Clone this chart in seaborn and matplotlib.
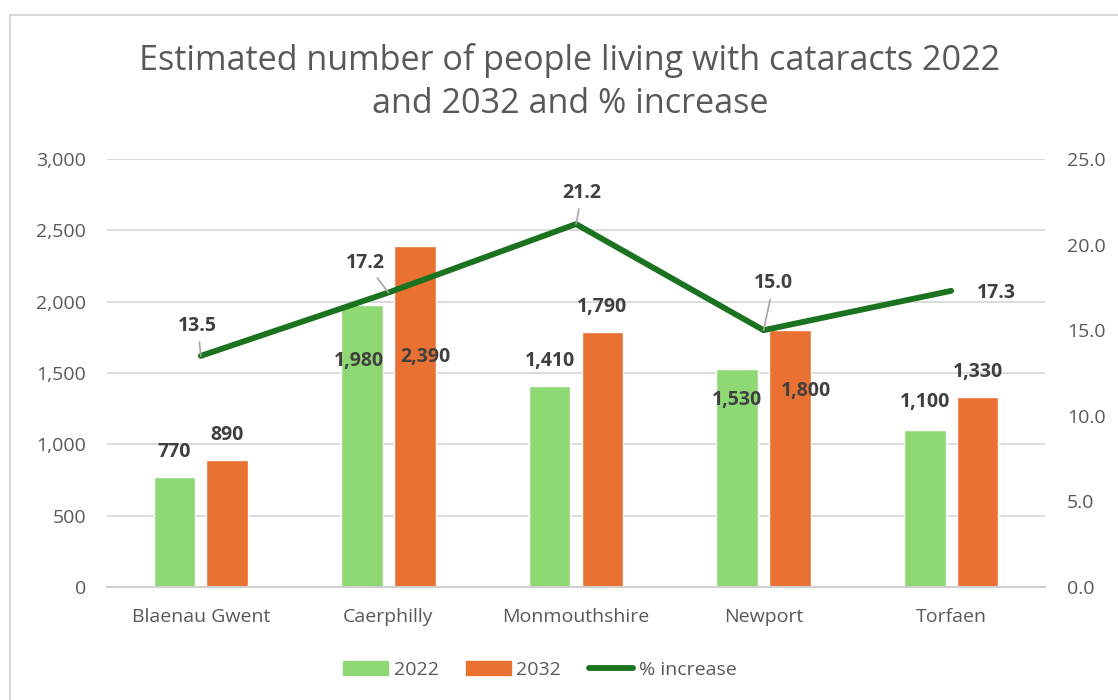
import numpy as np
import pandas as pd
import matplotlib
matplotlib.use("Agg")
import matplotlib.pyplot as plt
import matplotlib.patches as mpatches
import matplotlib.lines as mlines
from matplotlib.ticker import FuncFormatter
import seaborn as sns

areas = ["Blaenau Gwent", "Caerphilly", "Monmouthshire", "Newport", "Torfaen"]
people_2022 = [770, 1980, 1410, 1530, 1100]
people_2032 = [890, 2390, 1790, 1800, 1330]
pct_increase = [13.5, 17.2, 21.2, 15.0, 17.3]

GREEN = "#8ED973"
ORANGE = "#E97132"
DARK = "#1B7320"
GREY_TXT = "#595959"
LBL = "#404040"

sns.set_theme(style="white")
plt.rcParams["font.family"] = ["Open Sans", "DejaVu Sans"]

df = pd.DataFrame({"area": areas * 2,
                   "year": ["2022"] * 5 + ["2032"] * 5,
                   "people": people_2022 + people_2032})

fig = plt.figure(figsize=(11.18, 7.0), dpi=100)
ax = fig.add_axes([107 / 1118, 1 - 587 / 700, 938 / 1118, 428 / 700])

sns.barplot(data=df, x="area", y="people", hue="year", order=areas,
            hue_order=["2022", "2032"], palette=[GREEN, ORANGE],
            width=0.564, gap=0.213, saturation=1, ax=ax, legend=False,
            zorder=2)
ax.set_xlim(-0.5, 4.5)
ax.set_ylim(0, 3000)
ax.set_yticks(np.arange(0, 3001, 500))
ax.yaxis.set_major_formatter(FuncFormatter(lambda v, p: f"{int(v):,}"))
ax.grid(axis="y", color="#D9D9D9", linewidth=1.3, zorder=0)
ax.set_axisbelow(True)
for s in ["top", "right", "left"]:
    ax.spines[s].set_visible(False)
ax.spines["bottom"].set_color("#D0D0D0")
ax.spines["bottom"].set_linewidth(1.5)
ax.set_xlabel("")
ax.set_ylabel("")
ax.tick_params(axis="both", length=0, labelsize=14, colors=GREY_TXT)
ax.tick_params(axis="y", pad=15)
ax.tick_params(axis="x", pad=15)

# bar value labels (offsets in pixels, Excel moved some of them)
bar_offsets = [(0, 25), (-3, -56), (0, 25), (0, -31), (0, 28),
               (0, 25), (11, -111), (0, 25), (16, -61), (0, 25)]
vals = people_2022 + people_2032
for patch, v, off in zip(ax.patches, vals, bar_offsets):
    xc = patch.get_x() + patch.get_width() / 2
    ax.annotate(f"{v:,}", xy=(xc, patch.get_height()), xytext=off,
                textcoords="offset pixels", ha="center", va="center",
                fontsize=14, fontweight="bold", color=LBL, zorder=5)

ax2 = ax.twinx()
sns.lineplot(x=np.arange(len(areas)), y=pct_increase, ax=ax2, color=DARK,
             linewidth=4.2, zorder=4)
ax2.set_ylim(0, 25)
ax2.set_yticks(np.arange(0, 25.1, 5))
ax2.yaxis.set_major_formatter(FuncFormatter(lambda v, p: f"{v:.1f}"))
ax2.tick_params(axis="y", length=0, labelsize=14, colors=GREY_TXT, pad=16)
for s in ax2.spines.values():
    s.set_visible(False)
ax2.set_xlim(-0.5, 4.5)

line_offsets = [(-3, 30), (-23, 30), (6, 31), (10, 47), (45, -2)]
for i, (v, off) in enumerate(zip(pct_increase, line_offsets)):
    arrow = None
    if i < 4:
        arrow = dict(arrowstyle="-", color="#A6A6A6", lw=1.2,
                     shrinkA=2, shrinkB=0)
    ax2.annotate(f"{v:.1f}", xy=(i, v), xytext=off, textcoords="offset pixels",
                 ha="center", va="center", fontsize=14, fontweight="bold",
                 color=LBL, arrowprops=arrow, zorder=6)

fig.text(570 / 1118, 1 - 82 / 700,
         "Estimated number of people living with cataracts 2022\nand 2032 and % increase",
         ha="center", va="center", fontsize=24.6, color=GREY_TXT, linespacing=1.32)

handles = [mpatches.Patch(color=GREEN, label="2022"),
           mpatches.Patch(color=ORANGE, label="2032"),
           mlines.Line2D([], [], color=DARK, linewidth=4.2, label="% increase")]
fig.legend(handles=handles, loc="center", bbox_to_anchor=(540 / 1118, 1 - 670 / 700),
           ncol=3, frameon=False, fontsize=14, handlelength=2.3,
           handleheight=0.7, handletextpad=0.3, columnspacing=1.4,
           labelcolor=GREY_TXT)

fig.patches.append(mpatches.Rectangle((10 / 1118, -0.1), 1.2, 1.1 - 15 / 700,
                                      transform=fig.transFigure, fill=False,
                                      edgecolor="#D9D9D9", linewidth=1.5))

fig.savefig("out.png", dpi=100)
